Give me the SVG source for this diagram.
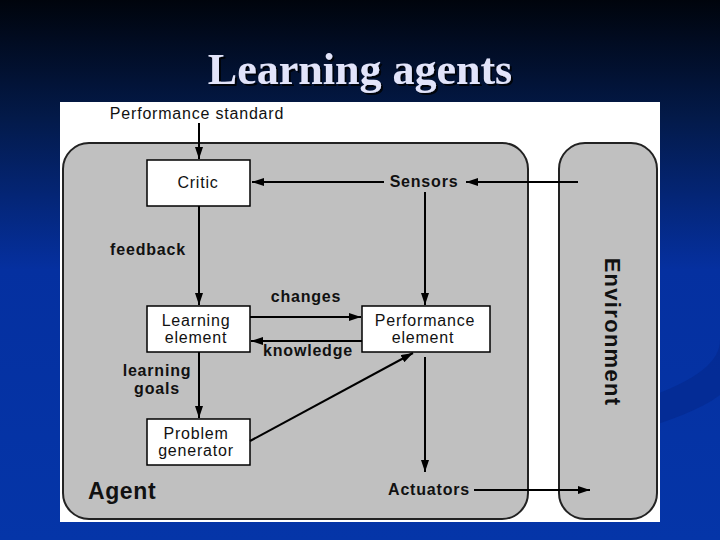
<svg xmlns="http://www.w3.org/2000/svg" width="720" height="540" viewBox="0 0 720 540">
<defs>
<linearGradient id="bg" x1="0" y1="0" x2="0" y2="1">
<stop offset="0" stop-color="#00040c"/>
<stop offset="0.22" stop-color="#031a4a"/>
<stop offset="0.5" stop-color="#0530a0"/>
<stop offset="1" stop-color="#0535a8"/>
</linearGradient>
<marker id="ah" viewBox="0 0 12 8" refX="12" refY="4" markerWidth="12" markerHeight="8" markerUnits="userSpaceOnUse" orient="auto">
<path d="M0,0 L12,4 L0,8 Z" fill="#000"/>
</marker>
<filter id="sh" x="-10%" y="-10%" width="120%" height="130%">
<feDropShadow dx="2" dy="2" stdDeviation="0.5" flood-color="#000" flood-opacity="0.8"/>
</filter>
</defs>
<style>
.box{fill:#fff;stroke:#000;stroke-width:1.5}
.reg{fill:#c0c0c0;stroke:#222;stroke-width:2}
.t{font-family:"Liberation Sans",Arial,sans-serif;font-size:16px;letter-spacing:0.8px;fill:#111}
.b{font-family:"Liberation Sans",Arial,sans-serif;font-size:16px;letter-spacing:0.8px;font-weight:bold;fill:#111}
.c{stroke:#000;stroke-width:2;fill:none}
</style>
<rect x="0" y="0" width="720" height="540" fill="url(#bg)"/>
<path d="M640,400 C700,380 720,360 720,340 L720,395 C700,410 670,420 640,430 Z" fill="#042a90" opacity="0.7"/>
<text x="360" y="84" text-anchor="middle" font-family="Liberation Serif,'Times New Roman',serif" font-size="44" font-weight="bold" fill="#e2e4fa" filter="url(#sh)">Learning agents</text>
<rect x="60" y="102" width="600" height="420" fill="#fff"/>
<g id="agent">
<rect class="reg" x="63" y="143" width="465" height="376" rx="26"/>
<text x="88" y="499" font-family="Liberation Sans,Arial,sans-serif" font-size="23" letter-spacing="0.6" font-weight="bold" fill="#111">Agent</text>
</g>
<g id="environment">
<rect class="reg" x="559" y="143" width="98" height="376" rx="26"/>
<text transform="translate(605,332) rotate(90)" text-anchor="middle" font-family="Liberation Sans,Arial,sans-serif" font-size="22" letter-spacing="1.3" font-weight="bold" fill="#111">Environment</text>
</g>
<g id="performance-standard"><text class="t" x="197" y="119" text-anchor="middle">Performance standard</text></g>
<g id="sensors"><text class="b" x="424" y="187" text-anchor="middle">Sensors</text></g>
<g id="actuators"><text class="b" x="429" y="495" text-anchor="middle">Actuators</text></g>
<g id="critic">
<rect class="box" x="147" y="160" width="103" height="46"/>
<text class="t" x="198" y="188" text-anchor="middle">Critic</text>
</g>
<g id="learning-element">
<rect class="box" x="147" y="306" width="103" height="46"/>
<text class="t" x="196" y="326" text-anchor="middle">Learning</text>
<text class="t" x="196" y="343" text-anchor="middle">element</text>
</g>
<g id="performance-element">
<rect class="box" x="362" y="306" width="128" height="46"/>
<text class="t" x="425" y="326" text-anchor="middle">Performance</text>
<text class="t" x="423" y="343" text-anchor="middle">element</text>
</g>
<g id="problem-generator">
<rect class="box" x="147" y="419" width="103" height="46"/>
<text class="t" x="196" y="439" text-anchor="middle">Problem</text>
<text class="t" x="196" y="456" text-anchor="middle">generator</text>
</g>
<g id="connectors">
<line class="c" x1="199" y1="123" x2="199" y2="159" marker-end="url(#ah)"/>
<line class="c" x1="578" y1="182" x2="466" y2="182" marker-end="url(#ah)"/>
<line class="c" x1="384" y1="182" x2="252" y2="182" marker-end="url(#ah)"/>
<line class="c" x1="425" y1="192" x2="425" y2="305" marker-end="url(#ah)"/>
<line class="c" x1="199" y1="206" x2="199" y2="305" marker-end="url(#ah)"/>
<line class="c" x1="250" y1="317" x2="361" y2="317" marker-end="url(#ah)"/>
<line class="c" x1="362" y1="341" x2="251" y2="341" marker-end="url(#ah)"/>
<line class="c" x1="199" y1="352" x2="199" y2="418" marker-end="url(#ah)"/>
<line class="c" x1="250" y1="441" x2="413" y2="353" marker-end="url(#ah)"/>
<line class="c" x1="425" y1="357" x2="425" y2="472" marker-end="url(#ah)"/>
<line class="c" x1="474" y1="490" x2="590" y2="490" marker-end="url(#ah)"/>
<text class="b" x="148" y="255" text-anchor="middle">feedback</text>
<text class="b" x="306" y="302" text-anchor="middle">changes</text>
<text class="b" x="308" y="356" text-anchor="middle">knowledge</text>
<text class="b" x="157" y="376" text-anchor="middle">learning</text>
<text class="b" x="157" y="394" text-anchor="middle">goals</text>
</g>
</svg>
